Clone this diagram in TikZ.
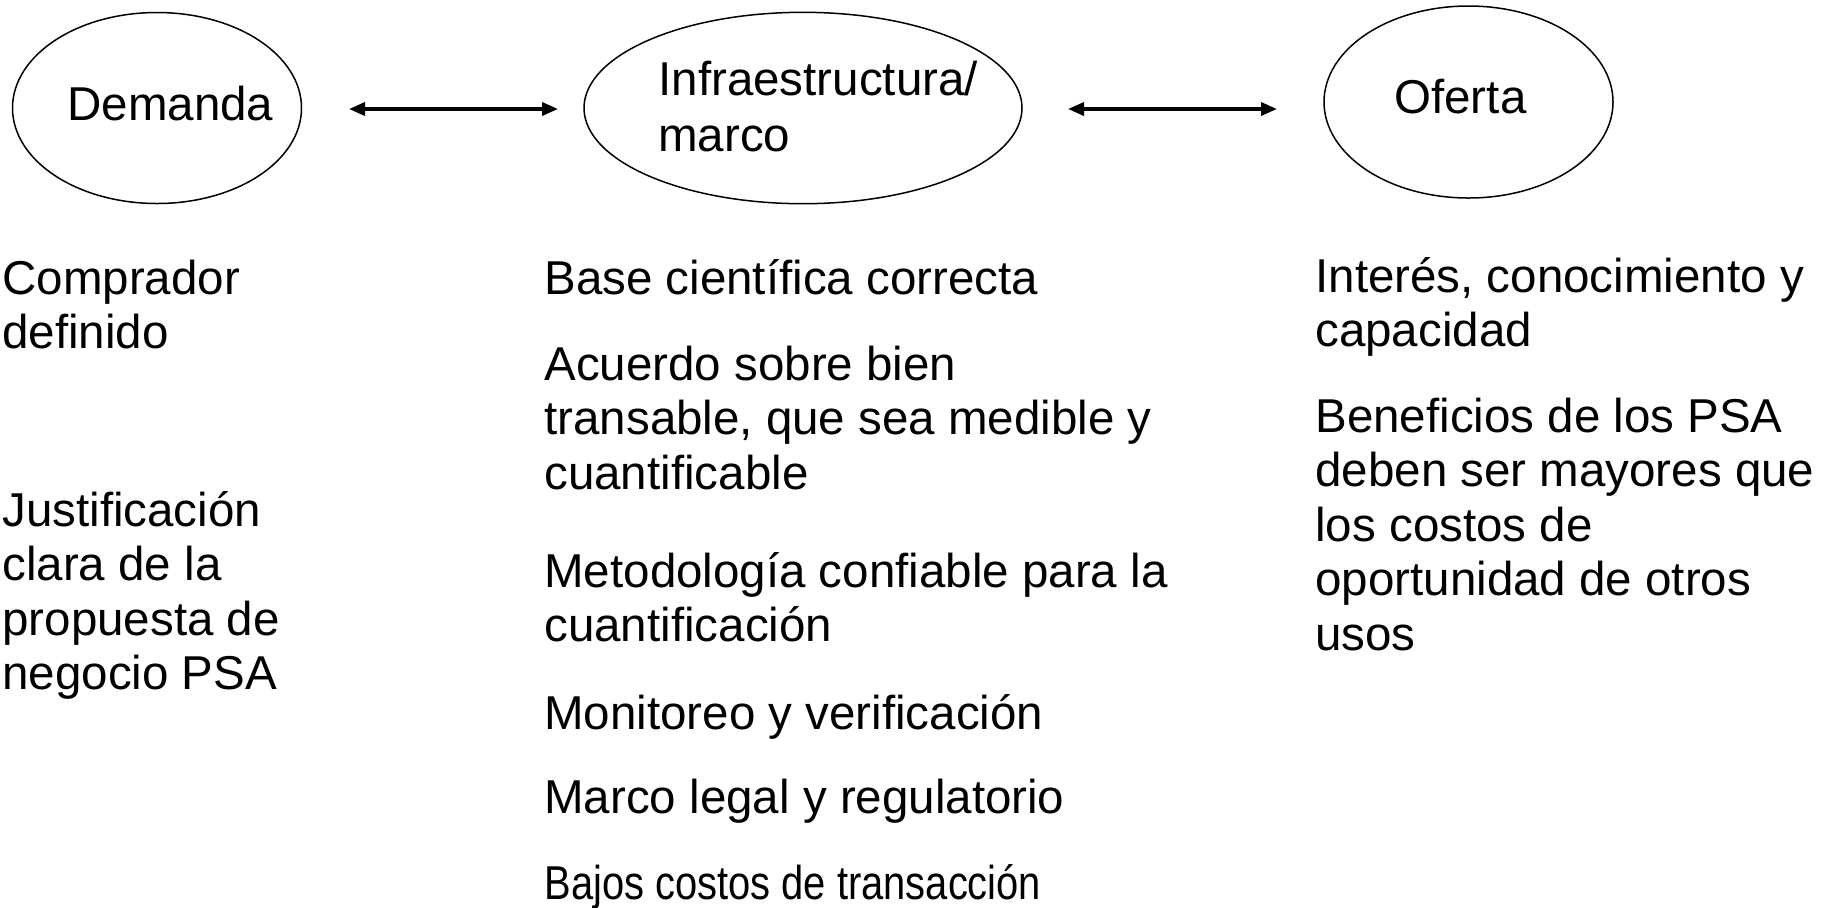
\documentclass[tikz,border=0pt]{standalone}
\usepackage{fontspec}
\usepackage{graphicx}
\setmainfont{Liberation Sans}
\usetikzlibrary{arrows.meta}
\begin{document}
\begin{tikzpicture}[x=0.5pt,y=-0.5pt,
  oval/.style={draw=black, line width=0.75pt},
  txt/.style={anchor=base west, inner sep=0pt, font=\fontsize{23.75}{27.25}\selectfont},
  link/.style={line width=1.75pt, {Triangle[length=8pt,width=6.5pt]}-{Triangle[length=8pt,width=6.5pt]}}]
\useasboundingbox (0,0) rectangle (1834,907);
% ellipses
\draw[oval] (157,108) ellipse [x radius=72.25pt, y radius=47.75pt];
\draw[oval] (803,108) ellipse [x radius=109.5pt, y radius=47.85pt];
\draw[oval] (1468.5,102) ellipse [x radius=72.25pt, y radius=48pt];
\node[txt] (dem) at (67,120.5) {Demanda};
\node[txt] (inf1) at (658,95) {Infraestructura/};
\node[txt] (inf2) at (658,151) {marco};
\node[txt] (ofe) at (1394,113) {Oferta};
\coordinate (a1l) at (349,109);
\coordinate (a1r) at (558,109);
\coordinate (a2l) at (1068,109);
\coordinate (a2r) at (1277,109);
\draw[link] (a1l) -- (a1r);
\draw[link] (a2l) -- (a2r);
% left column
\node[txt] (l1) at (2,294) {Comprador};
\node[txt] (l2) at (2,348.5) {definido};
\node[txt] (l3) at (2,526) {Justificación};
\node[txt] (l4) at (2,580.5) {clara de la};
\node[txt] (l5) at (2,635) {propuesta de};
\node[txt] (l6) at (2,689.5) {negocio PSA};
% middle column
\node[txt] (m1) at (544,294) {Base científica correcta};
\node[txt] (m2) at (544,380) {Acuerdo sobre bien};
\node[txt] (m3) at (544,434.5) {transable, que sea medible y};
\node[txt] (m4) at (544,489) {cuantificable};
\node[txt] (m5) at (544,587) {Metodología confiable para la};
\node[txt] (m6) at (544,641.5) {cuantificación};
\node[txt] (m7) at (544,729) {Monitoreo y verificación};
\node[txt] (m8) at (544,813.5) {Marco legal y regulatorio};
\node[txt] (m9) at (544,899) {\scalebox{0.84}[1]{Bajos costos de transacción}};
% right column
\node[txt] (r1) at (1315,292) {Interés, conocimiento y};
\node[txt] (r2) at (1315,346.5) {capacidad};
\node[txt] (r3) at (1315,432) {Beneficios de los PSA};
\node[txt] (r4) at (1315,486.5) {deben ser mayores que};
\node[txt] (r5) at (1315,541) {los costos de};
\node[txt] (r6) at (1315,595.5) {oportunidad de otros};
\node[txt] (r7) at (1315,650) {usos};
\end{tikzpicture}
\end{document}
